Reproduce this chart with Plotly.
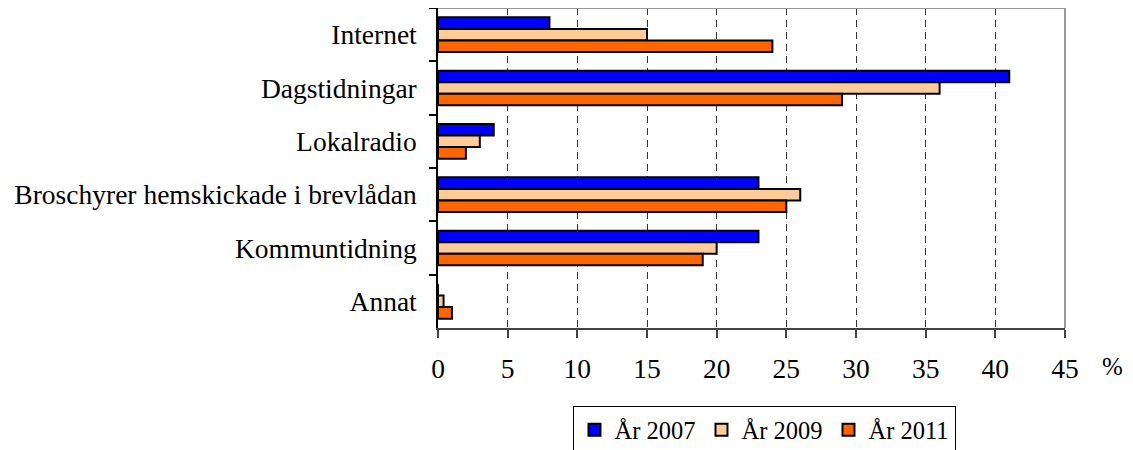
import plotly.graph_objects as go

categories = ["Internet", "Dagstidningar", "Lokalradio",
              "Broschyrer hemskickade i brevlådan", "Kommuntidning", "Annat"]
series_names = ["År 2007", "År 2009", "År 2011"]
values_2007 = [8, 41, 4, 23, 23, 0]
values_2009 = [15, 36, 3, 26, 20, 0.4]
values_2011 = [24, 29, 2, 25, 19, 1]
x_ticks = [0, 5, 10, 15, 20, 25, 30, 35, 40, 45]

colors = ["#0000FF", "#FFCC99", "#FF6600"]
FONT = "Liberation Serif"
FS = 27.5

fig = go.Figure()
for name, vals, col in zip(series_names, [values_2007, values_2009, values_2011], colors):
    fig.add_trace(go.Bar(
        y=categories, x=vals, name=name, orientation="h",
        marker=dict(color=col, line=dict(color="black", width=2)),
    ))

fig.update_layout(
    width=1125, height=442,
    margin=dict(l=430, r=68, t=0, b=122, autoexpand=False),
    paper_bgcolor="white", plot_bgcolor="white",
    barmode="group", bargap=0.35, bargroupgap=0,
    font=dict(family=FONT, size=FS, color="black"),
    showlegend=True,
    legend=dict(
        orientation="h", x=0.5215, xanchor="center", y=-0.245, yanchor="top",
        bordercolor="black", borderwidth=1, bgcolor="white",
        font=dict(family=FONT, size=24.5, color="black"),
        itemwidth=30, entrywidth=82, tracegroupgap=0,
    ),
    xaxis=dict(
        range=[0, 45], tickvals=x_ticks, ticktext=[str(t) for t in x_ticks],
        showgrid=True, gridcolor="#333333", griddash="7px,5px", gridwidth=1,
        showline=True, linecolor="#444444", linewidth=1.5,
        ticks="outside", ticklen=8, tickcolor="#444444", tickwidth=1.5,
        zeroline=False, tickfont=dict(family=FONT, size=FS),
        ticklabelstandoff=7,
    ),
    yaxis=dict(
        autorange="reversed", type="category", tickson="boundaries",
        showgrid=False, showline=True, linecolor="black", linewidth=1.5,
        ticks="outside", ticklen=7, tickcolor="black", tickwidth=1.5,
        tickfont=dict(family=FONT, size=FS), ticklabelstandoff=14,
    ),
    shapes=[
        dict(type="line", xref="paper", yref="paper", x0=0, x1=1, y0=1, y1=1,
             line=dict(color="#999999", width=2)),
        dict(type="line", xref="paper", yref="paper", x0=1, x1=1, y0=0, y1=1,
             line=dict(color="#999999", width=2)),
    ],
    annotations=[
        dict(text="%", xref="paper", yref="paper", x=1.075, y=-0.12,
             xanchor="center", yanchor="middle", showarrow=False,
             font=dict(family=FONT, size=25, color="black")),
    ],
)

fig.write_html("out.html")
